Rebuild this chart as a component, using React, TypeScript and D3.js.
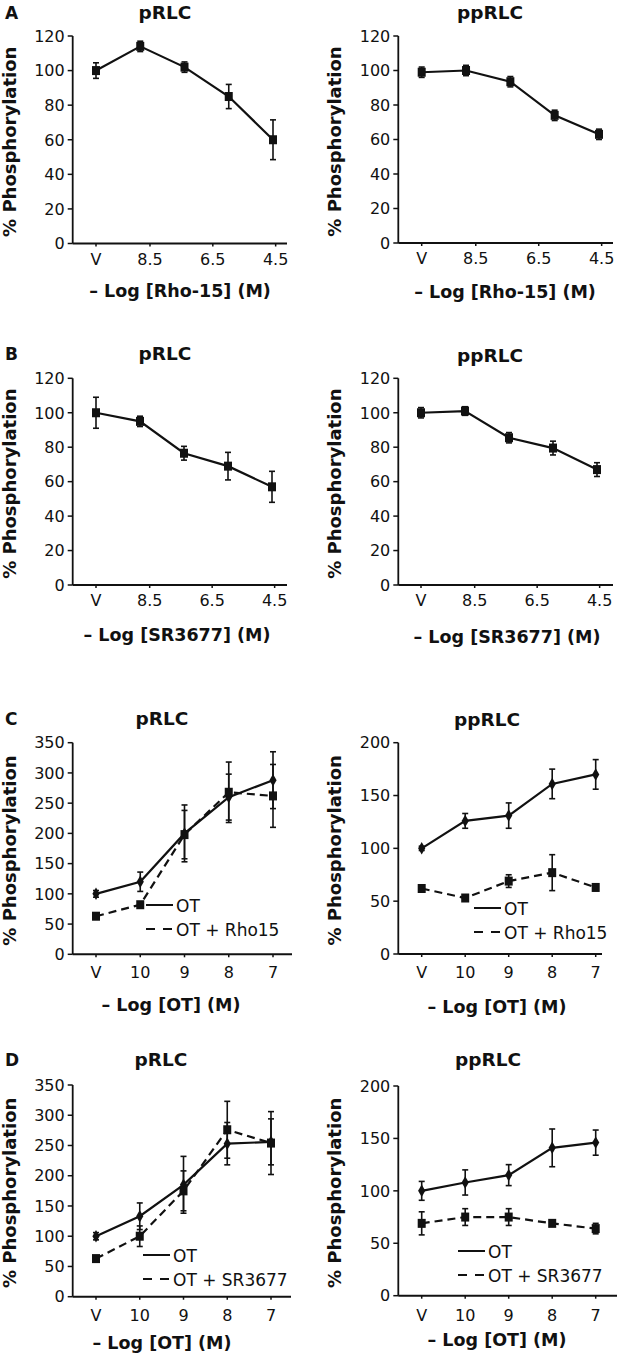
import React, { useEffect, useRef } from 'react';
import * as d3 from 'd3';

// tick labels
const drugTicks = ['V', '8.5', '6.5', '4.5'];
const drugTickIdx = [0, 1.22, 2.64, 4.06];
const otTicks = ['V', '10', '9', '8', '7'];
const otTickIdx = [0, 1, 2, 3, 4];

// A: Rho-15
const aPRLC = [100, 114, 102, 85, 60];
const aPRLCErr = [4.5, 3, 3, 7, 11.5];
const aPPRLC = [99, 100, 93.5, 74, 63];
const aPPRLCErr = [3, 3, 3, 3, 3];

// B: SR3677
const bPRLC = [100, 95, 76.5, 69, 57];
const bPRLCErr = [9, 3, 4, 8, 9];
const bPPRLC = [100, 101, 85.5, 79.5, 67];
const bPPRLCErr = [3, 2.5, 3, 4, 4];

// C: OT +/- Rho15
const cPRLCOt = [100, 120, 200, 260, 288];
const cPRLCOtErr = [5.5, 16, 47, 38, 47];
const cPRLCRho = [63, 82, 198, 268, 262];
const cPRLCRhoErr = [5, 4, 40, 50, 52];
const cPPRLCOt = [100, 126, 131, 161, 170];
const cPPRLCOtErr = [2, 7, 12, 14, 14];
const cPPRLCRho = [62, 53, 69, 77, 63];
const cPPRLCRhoErr = [3, 3, 6, 17, 3];

// D: OT +/- SR3677
const dPRLCOt = [100, 133, 185, 253, 256];
const dPRLCOtErr = [6, 22, 47, 35, 38];
const dPRLCSr = [63, 100, 175, 276, 254];
const dPRLCSrErr = [4, 17, 33, 47, 52];
const dPPRLCOt = [100, 108, 115, 141, 146];
const dPPRLCOtErr = [9, 12, 10, 18, 12];
const dPPRLCSr = [69, 75, 75, 69, 64];
const dPPRLCSrErr = [11, 8, 8, 2, 5];

const FONT = '"DejaVu Sans", Verdana, sans-serif';

const panels: any[] = [
  {
    letter: 'A', title: 'pRLC', xTitle: '– Log [Rho-15] (M)', axisX: 72.7, axisEnd: 287, x0: 96, x1: 273,
    yTop: 36, yBot: 243.5, yMax: 120, yStep: 20, titleX: 165, titleY: 19, xTitleX: 180, xTitleY: 297, xLabelDy: 21,
    ticks: drugTicks, tickIdx: drugTickIdx,
    series: [{ vals: aPRLC, err: aPRLCErr, dash: false, marker: 'square' }]
  },
  {
    title: 'ppRLC', xTitle: '– Log [Rho-15] (M)', axisX: 398.3, axisEnd: 613, x0: 421.7, x1: 599,
    yTop: 36, yBot: 243, yMax: 120, yStep: 20, titleX: 490, titleY: 19, xTitleX: 505, xTitleY: 298, xLabelDy: 21,
    ticks: drugTicks, tickIdx: drugTickIdx,
    series: [{ vals: aPPRLC, err: aPPRLCErr, dash: false, marker: 'square' }]
  },
  {
    letter: 'B', title: 'pRLC', xTitle: '– Log [SR3677] (M)', axisX: 72.7, axisEnd: 287, x0: 96, x1: 272,
    yTop: 378.3, yBot: 585, yMax: 120, yStep: 20, titleX: 165, titleY: 360, xTitleX: 177, xTitleY: 641, xLabelDy: 21,
    ticks: drugTicks, tickIdx: drugTickIdx,
    series: [{ vals: bPRLC, err: bPRLCErr, dash: false, marker: 'square' }]
  },
  {
    title: 'ppRLC', xTitle: '– Log [SR3677] (M)', axisX: 398.3, axisEnd: 613, x0: 421, x1: 597,
    yTop: 378.3, yBot: 585, yMax: 120, yStep: 20, titleX: 490, titleY: 362, xTitleX: 507, xTitleY: 643, xLabelDy: 21,
    ticks: drugTicks, tickIdx: drugTickIdx,
    series: [{ vals: bPPRLC, err: bPPRLCErr, dash: false, marker: 'square' }]
  },
  {
    letter: 'C', title: 'pRLC', xTitle: '– Log [OT] (M)', axisX: 72.7, axisEnd: 292, x0: 96, x1: 273,
    yTop: 742.7, yBot: 954.3, yMax: 350, yStep: 50, titleX: 162, titleY: 725, xTitleX: 171, xTitleY: 1011, xLabelDy: 24,
    ticks: otTicks, tickIdx: otTickIdx,
    series: [
      { vals: cPRLCOt, err: cPRLCOtErr, dash: false, marker: 'diamond' },
      { vals: cPRLCRho, err: cPRLCRhoErr, dash: true, marker: 'square' }
    ],
    legend: { x: 146, y: 905, labels: ['OT', 'OT + Rho15'] }
  },
  {
    title: 'ppRLC', xTitle: '– Log [OT] (M)', axisX: 398.3, axisEnd: 602, x0: 421.7, x1: 595.7,
    yTop: 742.7, yBot: 954, yMax: 200, yStep: 50, titleX: 487, titleY: 726, xTitleX: 497, xTitleY: 1013, xLabelDy: 24,
    ticks: otTicks, tickIdx: otTickIdx,
    series: [
      { vals: cPPRLCOt, err: cPPRLCOtErr, dash: false, marker: 'diamond' },
      { vals: cPPRLCRho, err: cPPRLCRhoErr, dash: true, marker: 'square' }
    ],
    legend: { x: 474, y: 908, labels: ['OT', 'OT + Rho15'] }
  },
  {
    letter: 'D', title: 'pRLC', xTitle: '– Log [OT] (M)', axisX: 72.7, axisEnd: 291, x0: 96, x1: 271,
    yTop: 1085, yBot: 1296.7, yMax: 350, yStep: 50, titleX: 161, titleY: 1066, xTitleX: 162, xTitleY: 1349, xLabelDy: 24,
    ticks: otTicks, tickIdx: otTickIdx,
    series: [
      { vals: dPRLCOt, err: dPRLCOtErr, dash: false, marker: 'diamond' },
      { vals: dPRLCSr, err: dPRLCSrErr, dash: true, marker: 'square' }
    ],
    legend: { x: 143, y: 1255, labels: ['OT', 'OT + SR3677'] }
  },
  {
    title: 'ppRLC', xTitle: '– Log [OT] (M)', axisX: 398.3, axisEnd: 617, x0: 421.7, x1: 595.7,
    yTop: 1086, yBot: 1295.7, yMax: 200, yStep: 50, titleX: 488, titleY: 1066, xTitleX: 497, xTitleY: 1346, xLabelDy: 25,
    ticks: otTicks, tickIdx: otTickIdx,
    series: [
      { vals: dPPRLCOt, err: dPPRLCOtErr, dash: false, marker: 'diamond' },
      { vals: dPPRLCSr, err: dPPRLCSrErr, dash: true, marker: 'square' }
    ],
    legend: { x: 458, y: 1251, labels: ['OT', 'OT + SR3677'] }
  }
];

function drawPanel(svg: any, p: any) {
  const x = d3.scaleLinear().domain([0, 4]).range([p.x0, p.x1]);
  const y = d3.scaleLinear().domain([0, p.yMax]).range([p.yBot, p.yTop]);
  const g = svg.append('g').attr('font-family', FONT).attr('fill', '#111');

  // axes
  g.append('line')
    .attr('x1', p.axisX).attr('x2', p.axisX)
    .attr('y1', p.yTop).attr('y2', p.yBot)
    .attr('stroke', '#111').attr('stroke-width', 1.8);
  g.append('line')
    .attr('x1', p.axisX).attr('x2', p.axisEnd)
    .attr('y1', p.yBot).attr('y2', p.yBot)
    .attr('stroke', '#111').attr('stroke-width', 2);

  const yTicks = d3.range(0, p.yMax + 1, p.yStep);
  g.selectAll('.ytick').data(yTicks).enter().append('line')
    .attr('x1', p.axisX - 5).attr('x2', p.axisX)
    .attr('y1', (d: number) => y(d)).attr('y2', (d: number) => y(d))
    .attr('stroke', '#111').attr('stroke-width', 1.5);
  g.selectAll('.ylab').data(yTicks).enter().append('text')
    .attr('x', p.axisX - 8)
    .attr('y', (d: number) => y(d))
    .attr('dy', '0.36em')
    .attr('text-anchor', 'end')
    .attr('font-size', 16)
    .text((d: number) => d);

  g.selectAll('.xtick').data(p.tickIdx).enter().append('line')
    .attr('x1', (d: number) => x(d)).attr('x2', (d: number) => x(d))
    .attr('y1', p.yBot).attr('y2', p.yBot + 3)
    .attr('stroke', '#111').attr('stroke-width', 1.5);
  g.selectAll('.xlab').data(p.ticks).enter().append('text')
    .attr('x', (d: string, i: number) => x(p.tickIdx[i]))
    .attr('y', p.yBot + p.xLabelDy)
    .attr('text-anchor', 'middle')
    .attr('font-size', 16)
    .text((d: string) => d);

  // titles
  g.append('text')
    .attr('x', p.titleX).attr('y', p.titleY)
    .attr('text-anchor', 'middle')
    .attr('font-size', 18.5).attr('font-weight', 'bold')
    .text(p.title);
  if (p.letter) {
    g.append('text')
      .attr('x', 5).attr('y', p.titleY)
      .attr('font-size', 17).attr('font-weight', 'bold')
      .text(p.letter);
  }
  g.append('text')
    .attr('x', p.xTitleX).attr('y', p.xTitleY)
    .attr('text-anchor', 'middle')
    .attr('font-size', 17.5).attr('font-weight', 'bold')
    .text(p.xTitle);
  g.append('text')
    .attr('transform', `translate(${p.axisX - 57},${(p.yTop + p.yBot) / 2 + 2}) rotate(-90)`)
    .attr('text-anchor', 'middle')
    .attr('font-size', 18).attr('font-weight', 'bold')
    .text('% Phosphorylation');

  // series lines
  const line = d3.line<number>().x((d, i) => x(i)).y(d => y(d));
  p.series.forEach((s: any) => {
    g.append('path')
      .attr('d', line(s.vals))
      .attr('fill', 'none')
      .attr('stroke', '#111')
      .attr('stroke-width', 2.2)
      .attr('stroke-dasharray', s.dash ? '8,5' : null);
  });

  // error bars
  p.series.forEach((s: any) => {
    s.vals.forEach((v: number, i: number) => {
      const e = s.err[i];
      const cx = x(i);
      g.append('line')
        .attr('x1', cx).attr('x2', cx)
        .attr('y1', y(v - e)).attr('y2', y(v + e))
        .attr('stroke', '#111').attr('stroke-width', 1.6);
      [v - e, v + e].forEach(t => {
        g.append('line')
          .attr('x1', cx - 3).attr('x2', cx + 3)
          .attr('y1', y(t)).attr('y2', y(t))
          .attr('stroke', '#111').attr('stroke-width', 1.6);
      });
    });
  });

  // markers
  p.series.forEach((s: any) => {
    s.vals.forEach((v: number, i: number) => {
      if (s.marker === 'square') {
        g.append('rect')
          .attr('x', x(i) - 4).attr('y', y(v) - 4.5)
          .attr('width', 8).attr('height', 9)
          .attr('fill', '#111');
      } else {
        g.append('path')
          .attr('d', d3.symbol(d3.symbolDiamond, 45)())
          .attr('transform', `translate(${x(i)},${y(v)})`)
          .attr('fill', '#111');
      }
    });
  });

  // legend
  if (p.legend) {
    p.legend.labels.forEach((lab: string, i: number) => {
      const ly = p.legend.y + i * 24;
      g.append('line')
        .attr('x1', p.legend.x).attr('x2', p.legend.x + 27)
        .attr('y1', ly).attr('y2', ly)
        .attr('stroke', '#111').attr('stroke-width', 2)
        .attr('stroke-dasharray', i === 1 ? '9,8' : null);
      g.append('text')
        .attr('x', p.legend.x + 30).attr('y', ly + 7)
        .attr('font-size', 17)
        .text(lab);
    });
  }
}

export default function App() {
  const ref = useRef<SVGSVGElement>(null);
  useEffect(() => {
    const svg = d3.select(ref.current);
    svg.selectAll('*').remove();
    panels.forEach(p => drawPanel(svg, p));
  }, []);
  return (
    <svg ref={ref} width={619} height={1359}
      style={{ position: 'absolute', left: 0, top: 0, background: '#fff' }} />
  );
}
